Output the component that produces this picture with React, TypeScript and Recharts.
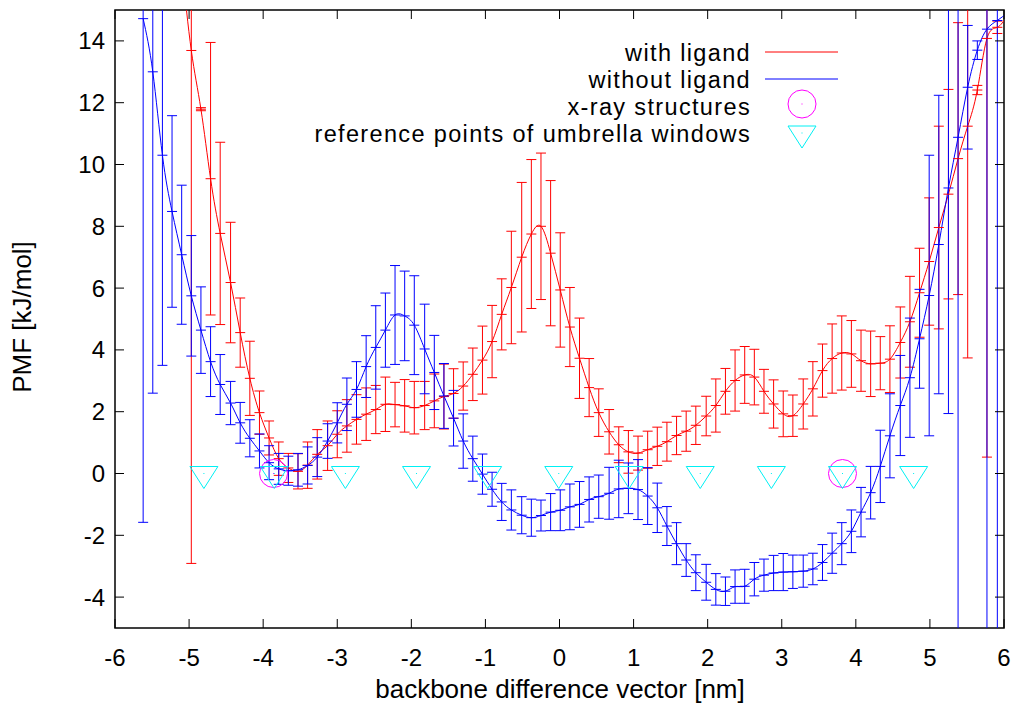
import React from 'react';
import { ComposedChart, Line, Scatter, XAxis, YAxis, ErrorBar, Customized } from 'recharts';

const FONT = '"Liberation Sans", Arial, Helvetica, sans-serif';
const W = 1016;
const H = 707;
// plot frame in page pixels (margins below are derived from these)
const PLOT = { left: 115, right: 1004, top: 10, bottom: 628 };

const xTicks = [-6, -5, -4, -3, -2, -1, 0, 1, 2, 3, 4, 5, 6];
const yTicks = [-4, -2, 0, 2, 4, 6, 8, 10, 12, 14];

// PMF with ligand bound
const ligandX = [
  -5.1, -4.97, -4.84, -4.71, -4.58, -4.44, -4.31, -4.18, -4.05, -3.92,
  -3.79, -3.66, -3.53, -3.4, -3.27, -3.13, -3.0, -2.87, -2.74, -2.61,
  -2.48, -2.35, -2.22, -2.09, -1.96, -1.82, -1.69, -1.56, -1.43, -1.3,
  -1.17, -1.04, -0.91, -0.78, -0.65, -0.51, -0.38, -0.25, -0.12, 0.01,
  0.14, 0.27, 0.4, 0.53, 0.67, 0.8, 0.93, 1.06, 1.19, 1.32,
  1.45, 1.58, 1.71, 1.84, 1.98, 2.11, 2.24, 2.37, 2.5, 2.63,
  2.76, 2.89, 3.02, 3.15, 3.29, 3.42, 3.55, 3.68, 3.81, 3.94,
  4.07, 4.2, 4.33, 4.46, 4.6, 4.73, 4.86, 4.99, 5.12, 5.25,
  5.38, 5.51, 5.64, 5.77, 5.91, 6.04,
];
const ligandPmf = [
  16.5, 13.69, 11.79, 9.54, 7.77, 6.18, 4.56, 3.08, 1.97, 1.15,
  0.48, 0.18, 0.07, 0.27, 0.62, 0.9, 1.27, 1.54, 1.75, 1.92,
  2.07, 2.24, 2.23, 2.19, 2.13, 2.2, 2.35, 2.49, 2.59, 2.83,
  3.21, 3.67, 4.27, 5.15, 6.02, 7.0, 7.75, 8.0, 7.13, 5.94,
  4.74, 3.73, 2.78, 1.97, 1.35, 0.93, 0.7, 0.66, 0.77, 0.88,
  1.03, 1.23, 1.37, 1.56, 1.86, 2.2, 2.66, 3.01, 3.19, 3.12,
  2.66, 2.25, 1.93, 1.87, 2.25, 2.74, 3.33, 3.72, 3.9, 3.87,
  3.65, 3.55, 3.57, 3.7, 4.24, 4.91, 5.85, 6.86, 7.96, 9.04,
  10.19, 11.24, 12.41, 14.08, 14.44, 14.8,
];
const ligandErr = [
  0, 16.6, 0.05, 4.41, 2.95, 1.95, 1.12, 1.2, 0.7, 0.55,
  0.54, 0.47, 0.57, 0.75, 0.8, 0.8, 0.76, 0.85, 0.8, 0.85,
  0.78, 0.88, 0.72, 0.85, 0.85, 0.78, 0.87, 1.05, 0.8, 0.78,
  0.85, 1.1, 1.17, 1.15, 1.82, 2.42, 2.41, 2.37, 2.35, 1.85,
  1.28, 1.3, 0.94, 0.77, 0.72, 0.58, 0.69, 0.55, 0.6, 0.62,
  0.63, 0.62, 0.65, 0.62, 0.64, 0.86, 0.74, 0.99, 0.92, 0.9,
  0.71, 0.78, 0.74, 0.67, 0.81, 0.88, 0.86, 1.12, 1.2, 1.08,
  0.99, 1.06, 0.86, 1.08, 1.15, 1.47, 1.44, 2.06, 3.28, 3.39,
  4.4, 7.5, 0.15, 13.55, 0.2, 0,
];

// PMF without ligand
const apoX = [
  -5.62, -5.49, -5.36, -5.23,
  -5.1, -4.97, -4.84, -4.71, -4.58, -4.44, -4.31, -4.18, -4.05, -3.92,
  -3.79, -3.66, -3.53, -3.4, -3.27, -3.13, -3.0, -2.87, -2.74, -2.61,
  -2.48, -2.35, -2.22, -2.09, -1.96, -1.82, -1.69, -1.56, -1.43, -1.3,
  -1.17, -1.04, -0.91, -0.78, -0.65, -0.51, -0.38, -0.25, -0.12, 0.01,
  0.14, 0.27, 0.4, 0.53, 0.67, 0.8, 0.93, 1.06, 1.19, 1.32,
  1.45, 1.58, 1.71, 1.84, 1.98, 2.11, 2.24, 2.37, 2.5, 2.63,
  2.76, 2.89, 3.02, 3.15, 3.29, 3.42, 3.55, 3.68, 3.81, 3.94,
  4.07, 4.2, 4.33, 4.46, 4.6, 4.73, 4.86, 4.99, 5.12, 5.25,
  5.38, 5.51, 5.64, 5.77, 5.91, 6.04,
];
const apoPmf = [
  14.72, 13.0, 10.3, 8.48, 7.08, 5.75, 4.64, 3.62, 2.88, 2.28,
  1.64, 1.14, 0.73, 0.35, 0.15, 0.09, 0.12, 0.26, 0.53, 1.05,
  1.64, 2.24, 2.72, 3.46, 4.08, 4.64, 5.13, 5.1, 4.8, 4.03,
  3.27, 2.51, 1.79, 1.05, 0.48, -0.02, -0.51, -0.92, -1.18, -1.35,
  -1.43, -1.36, -1.25, -1.19, -1.08, -1.0, -0.84, -0.75, -0.64, -0.5,
  -0.48, -0.52, -0.73, -1.11, -1.7, -2.27, -2.8, -3.21, -3.52, -3.75,
  -3.81, -3.66, -3.65, -3.42, -3.29, -3.22, -3.19, -3.18, -3.16, -3.09,
  -2.88, -2.58, -2.27, -1.87, -1.25, -0.62, 0.23, 1.22, 2.2, 3.1,
  4.36, 5.76, 7.41, 9.24, 10.88, 12.5, 13.7, 14.38, 14.66, 14.9,
];
const apoErr = [
  16.3, 10.4, 6.8, 3.1, 2.25, 1.95, 1.4, 1.13, 0.97, 0.7,
  0.66, 0.6, 0.55, 0.55, 0.5, 0.47, 0.53, 0.6, 0.63, 0.56,
  0.65, 0.85, 0.9, 1.0, 1.35, 1.2, 1.6, 1.45, 1.6, 1.45,
  1.2, 1.05, 0.9, 0.88, 0.73, 0.65, 0.55, 0.6, 0.65, 0.6,
  0.6, 0.5, 0.6, 0.66, 0.74, 0.74, 0.73, 0.7, 0.84, 0.93,
  0.82, 0.97, 0.92, 0.8, 0.63, 0.68, 0.53, 0.58, 0.58, 0.51,
  0.46, 0.54, 0.55, 0.54, 0.52, 0.57, 0.6, 0.54, 0.52, 0.51,
  0.58, 0.65, 0.68, 0.69, 0.8, 0.85, 1.17, 1.36, 1.62, 1.93,
  1.6, 4.54, 4.83, 7.3, 16, 2, 0.3, 20, 20, 0,
];

const xrayX = [-3.86, 3.82];
const xrayPmf = [0, 0];

const windowX = [-4.8, -3.85, -2.89, -1.93, -0.97, -0.01, 0.94, 1.9, 2.86, 3.82, 4.78];
const windowPmf = [0, 0, 0, 0, 0, 0, 0, 0, 0, 0, 0];

const legendLabels = ['with ligand', 'without ligand', 'x-ray structures', 'reference points of umbrella windows'];

const RED = '#ff0000';
const BLUE = '#0000ff';
const MAGENTA = '#ff00ff';
const CYAN = '#00f0f4';

const rows = (xs: number[], ys: number[], es?: number[]) =>
  xs.map((x, i) => ({ x, pmf: ys[i], err: es ? es[i] : 0 }));

const pmfSeries = [
  { name: legendLabels[0], color: RED, data: rows(ligandX, ligandPmf, ligandErr) },
  { name: legendLabels[1], color: BLUE, data: rows(apoX, apoPmf, apoErr) },
];

const inside = (cx: number, cy: number) =>
  cx >= PLOT.left && cx <= PLOT.right && cy >= PLOT.top && cy <= PLOT.bottom;

// gnuplot-style "+" point: the vertical stroke is hidden by the error bar
const crossDot = (color: string) => (props: any) => {
  const { cx, cy, index } = props;
  if (cx == null || cy == null || !inside(cx, cy)) return <g key={index} />;
  return <line key={index} x1={cx - 5} x2={cx + 5} y1={cy} y2={cy} stroke={color} strokeWidth={1} />;
};

const Ring = ({ cx, cy }: { cx: number; cy: number }) => (
  <g>
    <circle cx={cx} cy={cy} r={14} fill="none" stroke={MAGENTA} strokeWidth={1} />
    <rect x={cx - 0.5} y={cy - 0.5} width={1} height={1} fill={MAGENTA} />
  </g>
);

const Triangle = ({ cx, cy }: { cx: number; cy: number }) => (
  <g>
    <polygon
      points={`${cx - 14},${cy - 7} ${cx + 14},${cy - 7} ${cx},${cy + 15}`}
      fill="none"
      stroke={CYAN}
      strokeWidth={1}
    />
    <rect x={cx - 0.5} y={cy - 0.5} width={1} height={1} fill={CYAN} />
  </g>
);

function XTick(props: any) {
  const { x, payload } = props;
  return (
    <g>
      <line x1={x} x2={x} y1={PLOT.bottom} y2={PLOT.bottom - 9} stroke="#000" />
      <line x1={x} x2={x} y1={PLOT.top} y2={PLOT.top + 9} stroke="#000" />
      <text x={x} y={666} textAnchor="middle" fontSize={24} fontFamily={FONT} fill="#000">
        {payload.value}
      </text>
    </g>
  );
}

function YTick(props: any) {
  const { y, payload } = props;
  return (
    <g>
      <line x1={PLOT.left} x2={PLOT.left + 9} y1={y} y2={y} stroke="#000" />
      <line x1={PLOT.right} x2={PLOT.right - 9} y1={y} y2={y} stroke="#000" />
      <text x={105} y={y + 8.5} textAnchor="end" fontSize={24} fontFamily={FONT} fill="#000">
        {payload.value}
      </text>
    </g>
  );
}

function Overlay() {
  const textX = 751;
  const sampleX1 = 765;
  const sampleX2 = 838;
  const rowY = (i: number) => 52 + 27 * i;
  return (
    <g fontFamily={FONT} fill="#000">
      <defs>
        <clipPath id="plot-area-clip">
          <rect x={PLOT.left} y={PLOT.top} width={PLOT.right - PLOT.left} height={PLOT.bottom - PLOT.top} />
        </clipPath>
      </defs>
      <rect
        x={PLOT.left}
        y={PLOT.top}
        width={PLOT.right - PLOT.left}
        height={PLOT.bottom - PLOT.top}
        fill="none"
        stroke="#000"
        strokeWidth={1.5}
      />
      <text x={560} y={698} textAnchor="middle" fontSize={26}>
        backbone difference vector [nm]
      </text>
      <text transform="translate(31,317) rotate(-90)" textAnchor="middle" fontSize={26}>
        PMF [kJ/mol]
      </text>
      {legendLabels.map((label, i) => (
        <text key={label} x={textX} y={rowY(i) + 8.5} textAnchor="end" fontSize={23.5} letterSpacing={1.35}>
          {label}
        </text>
      ))}
      {pmfSeries.map((s, i) => (
        <line key={s.name} x1={sampleX1} x2={sampleX2} y1={rowY(i)} y2={rowY(i)} stroke={s.color} strokeWidth={1} />
      ))}
      <Ring cx={802} cy={rowY(2) - 2} />
      <Triangle cx={802} cy={rowY(3)} />
    </g>
  );
}

export default function App() {
  return (
    <div style={{ position: 'absolute', left: 0, top: 0, width: W, height: H, background: '#fff' }}>
      <ComposedChart width={W} height={H} margin={{ top: PLOT.top, right: W - PLOT.right, bottom: 0, left: 0 }}>
        <XAxis
          type="number"
          dataKey="x"
          domain={[-6, 6]}
          allowDataOverflow
          ticks={xTicks}
          interval={0}
          tick={<XTick />}
          tickLine={false}
          axisLine={false}
          height={H - PLOT.bottom}
        />
        <YAxis
          type="number"
          dataKey="pmf"
          domain={[-5, 15]}
          allowDataOverflow
          ticks={yTicks}
          interval={0}
          tick={<YTick />}
          tickLine={false}
          axisLine={false}
          width={PLOT.left}
        />
        <Customized component={Overlay} />
        {pmfSeries.map((s) => (
          <Line
            key={s.name}
            name={s.name}
            data={s.data}
            dataKey="pmf"
            type="natural"
            stroke={s.color}
            strokeWidth={1}
            dot={crossDot(s.color)}
            activeDot={false}
            isAnimationActive={false}
          >
            <ErrorBar
              dataKey="err"
              direction="y"
              width={5}
              stroke={s.color}
              strokeWidth={1}
              clipPath="url(#plot-area-clip)"
              isAnimationActive={false}
            />
          </Line>
        ))}
        <Scatter
          name={legendLabels[2]}
          data={rows(xrayX, xrayPmf)}
          shape={(p: any) => <Ring cx={p.cx} cy={p.cy} />}
          isAnimationActive={false}
        />
        <Scatter
          name={legendLabels[3]}
          data={rows(windowX, windowPmf)}
          shape={(p: any) => <Triangle cx={p.cx} cy={p.cy} />}
          isAnimationActive={false}
        />
      </ComposedChart>
    </div>
  );
}
